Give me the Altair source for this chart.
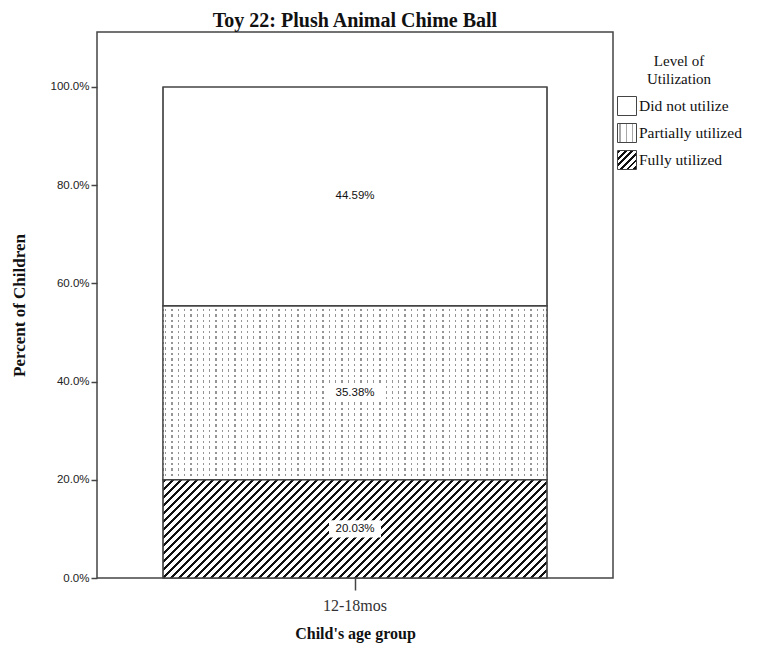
import altair as alt
import pandas as pd

# ---------------- data ----------------
ages = ["12-18mos"]
levels = ["Did not utilize", "Partially utilized", "Fully utilized"]
percents = [44.59, 35.38, 20.03]
stack_rank = [3, 2, 1]          # 1 = bottom of the stack
y_ticks = [0, 20, 40, 60, 80, 100]
chart_title = "Toy 22: Plush Animal Chime Ball"
legend_title = ["Level of", "Utilization"]
x_title = "Child's age group"
y_title = "Percent of Children"

# ---------------- layout / style ----------------
W_PLOT, H_PLOT = 516, 546
Y_MAX = 111.2
BAR_W = 384
LEG_SYM = 19
PX_PER = H_PLOT / Y_MAX

df = pd.DataFrame({
    "age": [ages[0]] * len(levels),
    "level": levels,
    "pct": percents,
    "rank": stack_rank,
})


def stripes(length, period, width, start, on, off):
    stops = [(0.0, off)]
    pos = start
    while pos < length:
        a = max(pos, 0.0) / length
        b = min(pos + width, length) / length
        if b > a:
            stops += [(a, off), (a, on), (b, on), (b, off)]
        pos += period
    stops.append((1.0, off))
    return stops


def grad(x2, y2, stops):
    return {"gradient": "linear", "x1": 0, "y1": 0, "x2": x2, "y2": y2,
            "stops": [{"offset": round(o, 5), "color": c} for o, c in stops]}


def diag(w, h, period, width, on="#111111", off="#ffffff"):
    k = w * (w + h) / (w * w + h * h)
    return grad(k, k * h / w, stripes(w + h, period, width, 1.0, on, off))


def vlines(w, period, width, on, off="#ffffff"):
    return grad(1, 0, stripes(w, period, width, 2.0, on, off))


def to_expr(g):
    st = ",".join("{offset:%s,color:'%s'}" % (s["offset"], s["color"]) for s in g["stops"])
    return "{gradient:'linear',x1:%s,y1:%s,x2:%s,y2:%s,stops:[%s]}" % (
        g["x1"], g["y1"], round(g["x2"], 5), round(g["y2"], 5), st)


h_full = percents[2] * PX_PER
h_part = percents[1] * PX_PER

bar_full = diag(BAR_W, h_full, 8.0, 3.2)
bar_part = vlines(BAR_W, 6.3, 1.3, "#959595")
leg_full = diag(LEG_SYM, LEG_SYM, 6.5, 2.8)
leg_part = vlines(LEG_SYM, 6.3, 1.2, "#a8a8a8")
dots = grad(0, 1, stripes(h_part, 5.5, 2.7, 0.0, "#ffffff", "rgba(255,255,255,0)"))

fill_expr = (
    "datum.level ? ("
    f"datum.level == '{levels[2]}' ? {to_expr(bar_full)} : "
    f"datum.level == '{levels[1]}' ? {to_expr(bar_part)} : 'white'"
    ") : ("
    f"datum.value == '{levels[2]}' ? {to_expr(leg_full)} : "
    f"datum.value == '{levels[1]}' ? {to_expr(leg_part)} : 'white'"
    ")"
)

x_enc = alt.X(
    "age:N", title=x_title,
    scale=alt.Scale(paddingInner=0, paddingOuter=0),
    axis=alt.Axis(labelAngle=0, labelFont="Liberation Serif", labelFontSize=16,
                  labelColor="#333333", tickColor="#444444", tickWidth=1.5,
                  tickSize=12, domain=False, grid=False, labelPadding=7,
                  titleFont="Liberation Serif", titleFontSize=16,
                  titleFontWeight="bold", titleColor="#111111", titlePadding=12),
)
y_scale = alt.Scale(domain=[0, Y_MAX], nice=False, zero=True)
y_axis = alt.Axis(values=y_ticks, labelExpr="format(datum.value, '.1f') + '%'",
                  labelFont="Liberation Sans", labelFontSize=11.5, labelColor="#222222",
                  tickColor="#444444", tickWidth=1.5, tickSize=6, labelPadding=2,
                  domain=False, grid=False,
                  titleFont="Liberation Serif", titleFontSize=17,
                  titleFontWeight="bold", titleColor="#111111", titlePadding=21)


def y_of(field):
    return alt.Y(field, title=y_title, scale=y_scale, axis=y_axis)


base = alt.Chart(df).transform_stack(
    stack="pct", groupby=["age"], as_=["y0", "y1"],
    sort=[alt.SortField("rank", order="ascending")],
)

bars = base.mark_bar(
    width=BAR_W, fill=alt.ExprRef(expr=fill_expr), stroke="#444444", strokeWidth=1.2
).encode(
    x=x_enc, y=y_of("y0:Q"), y2=alt.Y2("y1:Q"),
    opacity=alt.Opacity(
        "level:O",
        scale=alt.Scale(type="ordinal", domain=levels, range=[1, 1, 1]),
        legend=alt.Legend(
            title=legend_title, orient="none", legendX=520, legendY=22, padding=0,
            titleFont="Liberation Serif", titleFontSize=15, titleFontWeight="normal",
            titleColor="#111111", titleAnchor="middle", titleAlign="center",
            titleLineHeight=18, titlePadding=9,
            labelFont="Liberation Serif", labelFontSize=15.5, labelColor="#111111",
            labelOffset=2, symbolType="square", symbolSize=LEG_SYM * LEG_SYM,
            symbolStrokeWidth=1, rowPadding=3,
        ),
    ),
)

dot_layer = base.transform_filter(alt.datum.level == levels[1]).mark_bar(
    width=BAR_W, fill=dots
).encode(x=x_enc, y=y_of("y0:Q"), y2=alt.Y2("y1:Q"))

outline = base.mark_bar(
    width=BAR_W, fill="transparent", stroke="#444444", strokeWidth=1.2
).encode(x=x_enc, y=y_of("y0:Q"), y2=alt.Y2("y1:Q"))

lab = base.transform_calculate(
    mid="(datum.y0 + datum.y1) / 2",
    label="format(datum.pct, '.2f') + '%'",
)

boxes = lab.mark_point(
    shape="M-1,-0.33L1,-0.33L1,0.33L-1,0.33Z", size=52 * 52,
    filled=True, fill="white", opacity=1, strokeWidth=0,
).encode(x=x_enc, y=y_of("mid:Q"))

texts = lab.mark_text(
    font="Liberation Sans", fontSize=11.5, color="#111111"
).encode(x=x_enc, y=y_of("mid:Q"), text="label:N")

chart = alt.layer(bars, dot_layer, outline, boxes, texts).properties(
    width=W_PLOT, height=H_PLOT,
    title=alt.TitleParams(chart_title, font="Liberation Serif", fontSize=20,
                          fontWeight="bold", color="#111111", offset=1,
                          anchor="middle"),
    autosize=alt.AutoSizeParams(type="none"),
    padding={"left": 89, "top": 24, "right": 136, "bottom": 68},
).configure_view(stroke="#444444", strokeWidth=1.5)

chart.save("out.html", embed_options={"renderer": "svg", "actions": False})
